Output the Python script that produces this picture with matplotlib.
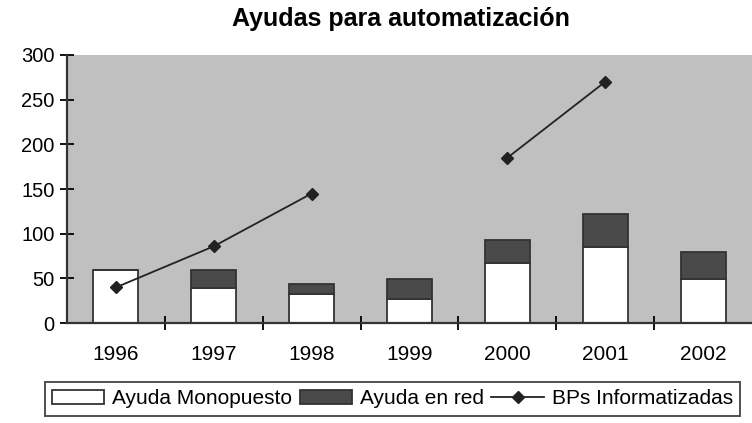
import numpy as np
import matplotlib.pyplot as plt
from matplotlib.ticker import FixedLocator

plt.rcParams['font.family'] = ['Liberation Sans', 'DejaVu Sans']

years = ["1996", "1997", "1998", "1999", "2000", "2001", "2002"]
monopuesto = [60, 39, 33, 27, 67, 85, 49]
en_red = [0, 20, 11, 22, 26, 37, 31]
bps = [40, 86, 145, np.nan, 185, 270, np.nan]

fig = plt.figure(figsize=(7.52, 4.23), dpi=100)
ax = fig.add_axes([0.089, 0.236, 0.911, 0.634])
ax.set_facecolor("#c0c0c0")

x = np.arange(len(years))
b1 = ax.bar(x, monopuesto, width=0.46, color="white", edgecolor="#333333", linewidth=1.3)
b2 = ax.bar(x, en_red, width=0.46, bottom=monopuesto, color="#4a4a4a",
            edgecolor="#333333", linewidth=1.3)
ln, = ax.plot(x, bps, color="#222222", marker="D", markersize=6.5, linewidth=1.3)

ax.set_xlim(-0.5, len(years) - 0.5)
ax.set_ylim(0, 300)
ax.set_yticks(np.arange(0, 301, 50))
ax.set_xticks(x)
ax.set_xticklabels(years)
ax.xaxis.set_minor_locator(FixedLocator(np.arange(0.5, len(years) - 0.5, 1)))
ax.tick_params(axis="x", which="major", length=0, pad=16, labelsize=15)
ax.tick_params(axis="x", which="minor", length=10, direction="inout", width=1.3)
ax.tick_params(axis="y", length=10, direction="inout", width=1.3, labelsize=14.5, pad=4)

for side in ["top", "right"]:
    ax.spines[side].set_visible(False)
for side in ["left", "bottom"]:
    ax.spines[side].set_linewidth(1.6)
    ax.spines[side].set_color("#333333")

fig.text(0.533, 0.955, "Ayudas para automatización", fontsize=18, fontweight="bold",
         ha="center", va="center")

leg = fig.legend([b1, b2, ln], ["Ayuda Monopuesto", "Ayuda en red", "BPs Informatizadas"],
                 loc="center", bbox_to_anchor=(0.522, 0.057), ncol=3, frameon=True,
                 fancybox=False, edgecolor="#222222", fontsize=15, handlelength=2.5,
                 handleheight=0.6, borderpad=0.35, columnspacing=0.35,
                 handletextpad=0.4, borderaxespad=0)
leg.get_frame().set_linewidth(1.4)

fig.savefig("out.png")
